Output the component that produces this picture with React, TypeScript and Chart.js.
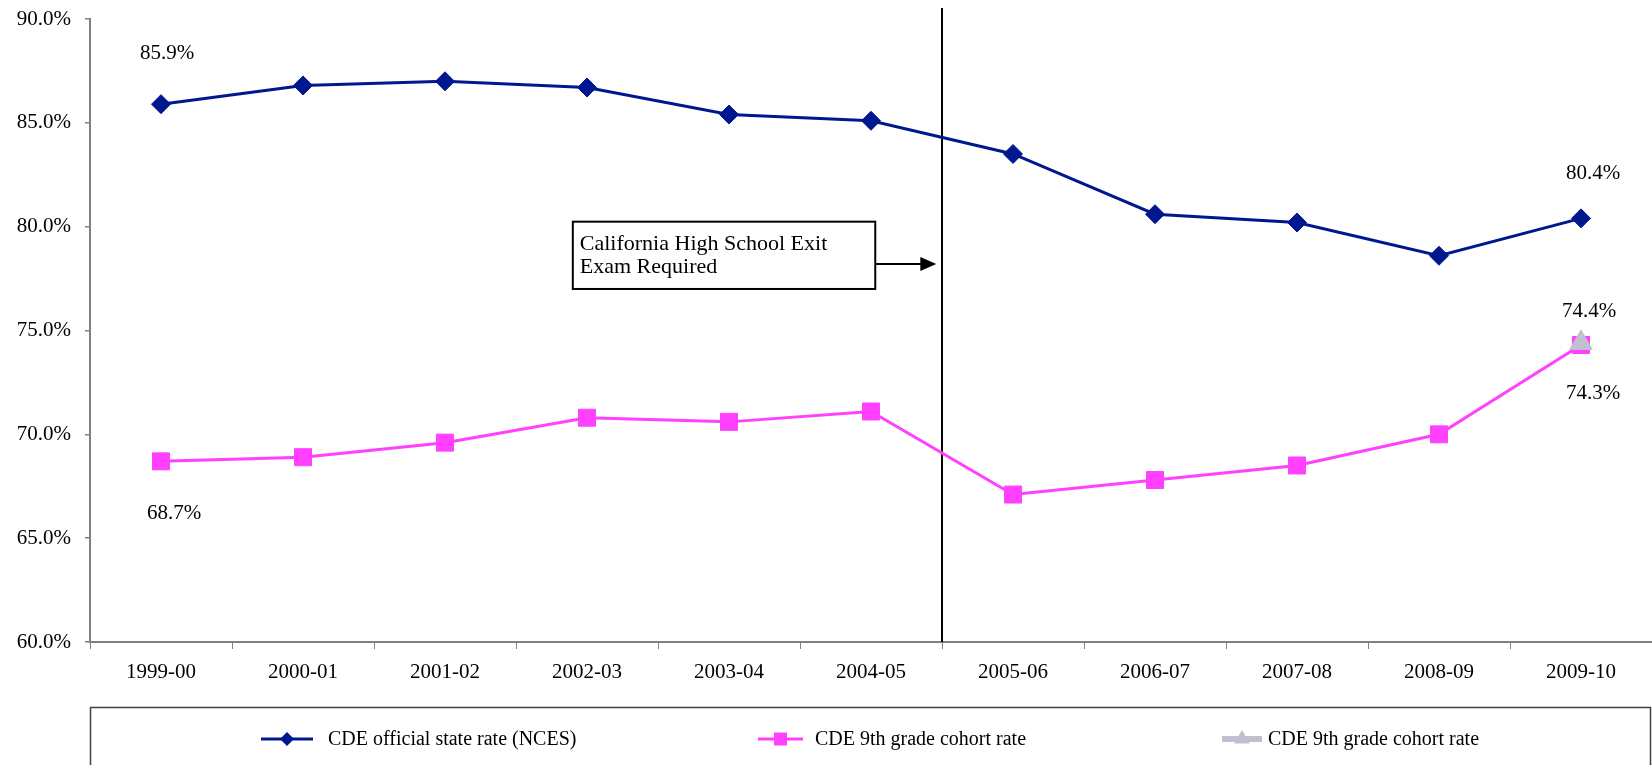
import React, { useEffect, useRef } from "react";
import { Chart, registerables } from "chart.js";

Chart.register(...registerables);

// School years on the category axis
const schoolYears = [
  "1999-00",
  "2000-01",
  "2001-02",
  "2002-03",
  "2003-04",
  "2004-05",
  "2005-06",
  "2006-07",
  "2007-08",
  "2008-09",
  "2009-10",
];

// Graduation rates, percent
const officialStateRate = [85.9, 86.8, 87.0, 86.7, 85.4, 85.1, 83.5, 80.6, 80.2, 78.6, 80.4];
const ninthGradeCohortRate = [68.7, 68.9, 69.6, 70.8, 70.6, 71.1, 67.1, 67.8, 68.5, 70.0, 74.3];
const ninthGradeCohortLatest = [null, null, null, null, null, null, null, null, null, null, 74.4];

const seriesLabels = [
  "CDE official state rate (NCES)",
  "CDE 9th grade cohort rate",
  "CDE 9th grade cohort rate",
];

const yTickValues = [60, 65, 70, 75, 80, 85, 90];

const exitExamNote = ["California High School Exit", "Exam Required"];

const NAVY = "#00188f";
const MAGENTA = "#ff40ff";
const SILVER = "#c0c0d0";
const FONT = '"Liberation Serif", "Times New Roman", serif';

const fmtPct = (v: number) => v.toFixed(1) + "%";

// Value labels: dataset index, point index and the label's offset from the point
const valueLabelSpots = [
  { ds: 0, i: 0, dx: 6, dy: -51 },
  { ds: 0, i: 10, dx: 12, dy: -45 },
  { ds: 1, i: 0, dx: 13, dy: 52 },
  { ds: 1, i: 10, dx: 12, dy: 48 },
  { ds: 2, i: 10, dx: 8, dy: -31 },
];

const valueLabelPlugin = {
  id: "valueLabels",
  afterDatasetsDraw(chart: any) {
    const ctx = chart.ctx;
    ctx.save();
    ctx.font = `21px ${FONT}`;
    ctx.fillStyle = "#000";
    ctx.textAlign = "center";
    ctx.textBaseline = "middle";
    for (const s of valueLabelSpots) {
      const meta = chart.getDatasetMeta(s.ds);
      const pt = meta.data[s.i];
      const v = chart.data.datasets[s.ds].data[s.i];
      if (!pt || v == null) continue;
      ctx.fillText(fmtPct(v), pt.x + s.dx, pt.y + s.dy);
    }
    ctx.restore();
  },
};

// Divider between 2004-05 and 2005-06 plus the boxed note with its arrow
const examNotePlugin = {
  id: "examNote",
  beforeDatasetsDraw(chart: any) {
    const { ctx, scales } = chart;
    const xs = scales.x;
    const ys = scales.y;
    ctx.save();
    const lineX = (xs.getPixelForValue(5) + xs.getPixelForValue(6)) / 2;
    ctx.strokeStyle = "#000";
    ctx.lineWidth = 2;
    ctx.beginPath();
    ctx.moveTo(lineX, ys.getPixelForValue(90.53));
    ctx.lineTo(lineX, ys.bottom);
    ctx.stroke();

    const left = xs.getPixelForValue(2.9);
    const right = xs.getPixelForValue(5.03);
    const top = ys.getPixelForValue(80.24);
    const bottom = ys.getPixelForValue(77.0);
    ctx.fillStyle = "#fff";
    ctx.fillRect(left, top, right - left, bottom - top);
    ctx.lineWidth = 2;
    ctx.strokeRect(left, top, right - left, bottom - top);

    ctx.fillStyle = "#000";
    ctx.font = `22px ${FONT}`;
    ctx.textAlign = "left";
    ctx.textBaseline = "alphabetic";
    exitExamNote.forEach((t, k) => {
      ctx.fillText(t, left + 7, top + 28 + k * 23);
    });

    const ay = ys.getPixelForValue(78.2);
    const tip = xs.getPixelForValue(5.46);
    ctx.beginPath();
    ctx.moveTo(right, ay);
    ctx.lineTo(tip - 14, ay);
    ctx.stroke();
    ctx.beginPath();
    ctx.moveTo(tip, ay);
    ctx.lineTo(tip - 16, ay - 7);
    ctx.lineTo(tip - 16, ay + 7);
    ctx.closePath();
    ctx.fill();
    ctx.restore();
  },
};

function drawMarker(ctx: CanvasRenderingContext2D, style: string, x: number, y: number, r: number) {
  ctx.beginPath();
  if (style === "rectRot") {
    ctx.moveTo(x - r, y);
    ctx.lineTo(x, y - r);
    ctx.lineTo(x + r, y);
    ctx.lineTo(x, y + r);
  } else if (style === "rect") {
    ctx.rect(x - r, y - r, 2 * r, 2 * r);
  } else {
    ctx.moveTo(x, y - r);
    ctx.lineTo(x + r * 0.866, y + r * 0.5);
    ctx.lineTo(x - r * 0.866, y + r * 0.5);
  }
  ctx.closePath();
  ctx.fill();
}

// Boxed legend along the bottom
const legendBoxPlugin = {
  id: "legendBox",
  afterDraw(chart: any) {
    const { ctx, chartArea } = chart;
    ctx.save();
    const boxTop = 707.5;
    ctx.strokeStyle = "#404040";
    ctx.lineWidth = 1.5;
    ctx.strokeRect(chartArea.left + 0.5, boxTop, chart.width - chartArea.left - 2, 80);

    const items = [
      { x0: 261, x1: 313, tx: 328, lw: 3, r: 7 },
      { x0: 758, x1: 803, tx: 815, lw: 3, r: 6.5 },
      { x0: 1222, x1: 1262, tx: 1268, lw: 6, r: 9 },
    ];
    const cy = 739;
    ctx.font = `20px ${FONT}`;
    ctx.textAlign = "left";
    ctx.textBaseline = "middle";
    chart.data.datasets.forEach((ds: any, k: number) => {
      const it = items[k];
      ctx.strokeStyle = ds.borderColor;
      ctx.fillStyle = ds.backgroundColor;
      ctx.lineWidth = it.lw;
      ctx.beginPath();
      ctx.moveTo(it.x0, cy);
      ctx.lineTo(it.x1, cy);
      ctx.stroke();
      drawMarker(ctx, ds.pointStyle, (it.x0 + it.x1) / 2, cy, it.r);
      ctx.fillStyle = "#000";
      ctx.fillText(ds.label, it.tx, cy + 1);
    });
    ctx.restore();
  },
};

export default function App() {
  const canvasRef = useRef<HTMLCanvasElement | null>(null);

  useEffect(() => {
    document.body.style.margin = "0";
    const canvas = canvasRef.current;
    if (!canvas) return;

    const chart = new Chart(canvas, {
      type: "line",
      data: {
        labels: schoolYears,
        datasets: [
          {
            label: seriesLabels[0],
            data: officialStateRate,
            borderColor: NAVY,
            backgroundColor: NAVY,
            borderWidth: 3,
            pointStyle: "rectRot",
            pointRadius: 9.5,
            pointBorderWidth: 1,
            order: 1,
          },
          {
            label: seriesLabels[1],
            data: ninthGradeCohortRate,
            borderColor: MAGENTA,
            backgroundColor: MAGENTA,
            borderWidth: 3,
            pointStyle: "rect",
            pointRadius: 12,
            pointBorderWidth: 1,
            order: 2,
          },
          {
            label: seriesLabels[2],
            data: ninthGradeCohortLatest,
            borderColor: SILVER,
            backgroundColor: SILVER,
            borderWidth: 4,
            pointStyle: "triangle",
            pointRadius: 13,
            pointBorderWidth: 1,
            order: 0,
          },
        ] as any,
      },
      options: {
        responsive: false,
        animation: false,
        events: [],
        layout: { autoPadding: false, padding: { top: 19, bottom: 63, left: 0, right: 0 } },
        plugins: {
          legend: { display: false },
          tooltip: { enabled: false },
          title: { display: false },
        },
        scales: {
          x: {
            type: "category",
            offset: true,
            grid: {
              offset: true,
              drawOnChartArea: false,
              drawTicks: true,
              tickLength: 7,
              color: "#808080",
              lineWidth: 1,
            },
            border: { display: true, color: "#808080", width: 2 },
            ticks: {
              color: "#000",
              font: { family: FONT, size: 21 },
              padding: 11,
              maxRotation: 0,
              autoSkip: false,
            },
            afterFit: (s: any) => {
              s.height = 60;
              s.paddingLeft = 0;
              s.paddingRight = 0;
            },
          },
          y: {
            type: "linear",
            min: 60,
            max: 90,
            grid: {
              drawOnChartArea: false,
              drawTicks: true,
              tickLength: 5,
              color: "#808080",
              lineWidth: 1.5,
            },
            border: { display: true, color: "#808080", width: 2 },
            ticks: {
              color: "#000",
              font: { family: FONT, size: 21 },
              padding: 14,
              callback: (v: any) => fmtPct(Number(v)),
            },
            afterBuildTicks: (s: any) => {
              s.ticks = yTickValues.map((v) => ({ value: v }));
            },
            afterFit: (s: any) => {
              s.width = 90;
              s.paddingTop = 0;
              s.paddingBottom = 0;
            },
          },
        },
      },
      plugins: [examNotePlugin, valueLabelPlugin, legendBoxPlugin],
    });

    return () => chart.destroy();
  }, []);

  return (
    <div style={{ width: 1652, height: 765, background: "#fff" }}>
      <canvas ref={canvasRef} width={1652} height={765} style={{ display: "block" }} />
    </div>
  );
}
